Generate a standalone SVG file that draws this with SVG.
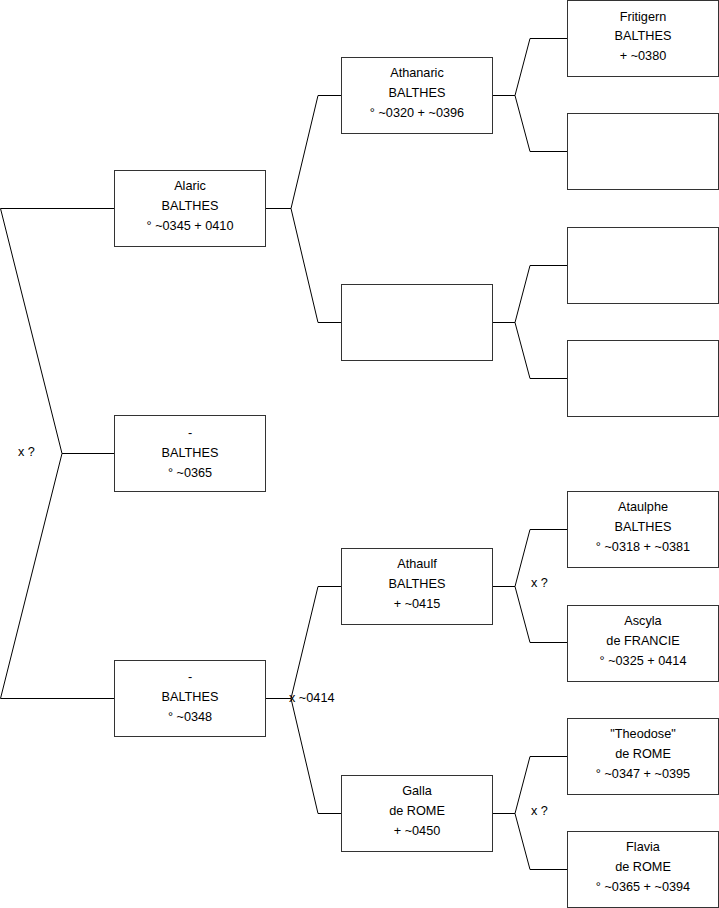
<svg xmlns="http://www.w3.org/2000/svg" width="719" height="908" viewBox="0 0 719 908">
<style>
.b{fill:#fff;stroke:#333;stroke-width:1}
.c{fill:none;stroke:#000;stroke-width:1}
text{font-family:"Liberation Sans",Arial,sans-serif;font-size:12.7px;fill:#000;dominant-baseline:central}
.m{text-anchor:middle}
</style>
<rect width="719" height="908" fill="#fff"/>
<g id="connectors">
<polyline class="c" points="114,208.5 0.5,208.5 62,453.5 0.5,698.5 114,698.5"/>
<line class="c" x1="62" y1="453.5" x2="114" y2="453.5"/>
<polyline class="c" points="341,95.5 318,95.5 291,208.5 318,322.5 341,322.5"/>
<line class="c" x1="265" y1="208.5" x2="291" y2="208.5"/>
<polyline class="c" points="341,586.5 318,586.5 291,698.5 318,813.5 341,813.5"/>
<line class="c" x1="265" y1="698.5" x2="291" y2="698.5"/>
<polyline class="c" points="567,38.5 530,38.5 515,95.5 530,151.5 567,151.5"/>
<line class="c" x1="492" y1="95.5" x2="515" y2="95.5"/>
<polyline class="c" points="567,265.5 530,265.5 515,322.5 530,378.5 567,378.5"/>
<line class="c" x1="492" y1="322.5" x2="515" y2="322.5"/>
<polyline class="c" points="567,529.5 530,529.5 515,586.5 530,642.5 567,642.5"/>
<line class="c" x1="492" y1="586.5" x2="515" y2="586.5"/>
<polyline class="c" points="567,756.5 530,756.5 515,813.5 530,869.5 567,869.5"/>
<line class="c" x1="492" y1="813.5" x2="515" y2="813.5"/>
<text x="18" y="452">x ?</text>
<text x="289" y="698">x ~0414</text>
<text x="531" y="583">x ?</text>
<text x="531" y="811">x ?</text>
</g>
<g id="alaric"><rect class="b" x="114.5" y="170.5" width="151" height="76"/>
<text class="m" x="190" y="186">Alaric</text><text class="m" x="190" y="206">BALTHES</text><text class="m" x="190" y="226">° ~0345 + 0410</text></g>
<g id="balthes365"><rect class="b" x="114.5" y="415.5" width="151" height="76"/>
<text class="m" x="190" y="433">-</text><text class="m" x="190" y="453">BALTHES</text><text class="m" x="190" y="473">° ~0365</text></g>
<g id="balthes348"><rect class="b" x="114.5" y="660.5" width="151" height="76"/>
<text class="m" x="190" y="677">-</text><text class="m" x="190" y="697">BALTHES</text><text class="m" x="190" y="717">° ~0348</text></g>
<g id="athanaric"><rect class="b" x="341.5" y="57.5" width="151" height="76"/>
<text class="m" x="417" y="73">Athanaric</text><text class="m" x="417" y="93">BALTHES</text><text class="m" x="417" y="113">° ~0320 + ~0396</text></g>
<g id="empty2"><rect class="b" x="341.5" y="284.5" width="151" height="76"/></g>
<g id="athaulf"><rect class="b" x="341.5" y="548.5" width="151" height="76"/>
<text class="m" x="417" y="564">Athaulf</text><text class="m" x="417" y="584">BALTHES</text><text class="m" x="417" y="604">+ ~0415</text></g>
<g id="galla"><rect class="b" x="341.5" y="775.5" width="151" height="76"/>
<text class="m" x="417" y="791">Galla</text><text class="m" x="417" y="811">de ROME</text><text class="m" x="417" y="831">+ ~0450</text></g>
<g id="fritigern"><rect class="b" x="567.5" y="0.5" width="151" height="76"/>
<text class="m" x="643" y="17">Fritigern</text><text class="m" x="643" y="36">BALTHES</text><text class="m" x="643" y="56">+ ~0380</text></g>
<g id="empty3a"><rect class="b" x="567.5" y="113.5" width="151" height="76"/></g>
<g id="empty3b"><rect class="b" x="567.5" y="227.5" width="151" height="76"/></g>
<g id="empty3c"><rect class="b" x="567.5" y="340.5" width="151" height="76"/></g>
<g id="ataulphe"><rect class="b" x="567.5" y="491.5" width="151" height="76"/>
<text class="m" x="643" y="507">Ataulphe</text><text class="m" x="643" y="527">BALTHES</text><text class="m" x="643" y="547">° ~0318 + ~0381</text></g>
<g id="ascyla"><rect class="b" x="567.5" y="605.5" width="151" height="76"/>
<text class="m" x="643" y="621">Ascyla</text><text class="m" x="643" y="641">de FRANCIE</text><text class="m" x="643" y="661">° ~0325 + 0414</text></g>
<g id="theodose"><rect class="b" x="567.5" y="718.5" width="151" height="76"/>
<text class="m" x="643" y="734">"Theodose"</text><text class="m" x="643" y="754">de ROME</text><text class="m" x="643" y="774">° ~0347 + ~0395</text></g>
<g id="flavia"><rect class="b" x="567.5" y="831.5" width="151" height="76"/>
<text class="m" x="643" y="847">Flavia</text><text class="m" x="643" y="867">de ROME</text><text class="m" x="643" y="887">° ~0365 + ~0394</text></g>
</svg>
